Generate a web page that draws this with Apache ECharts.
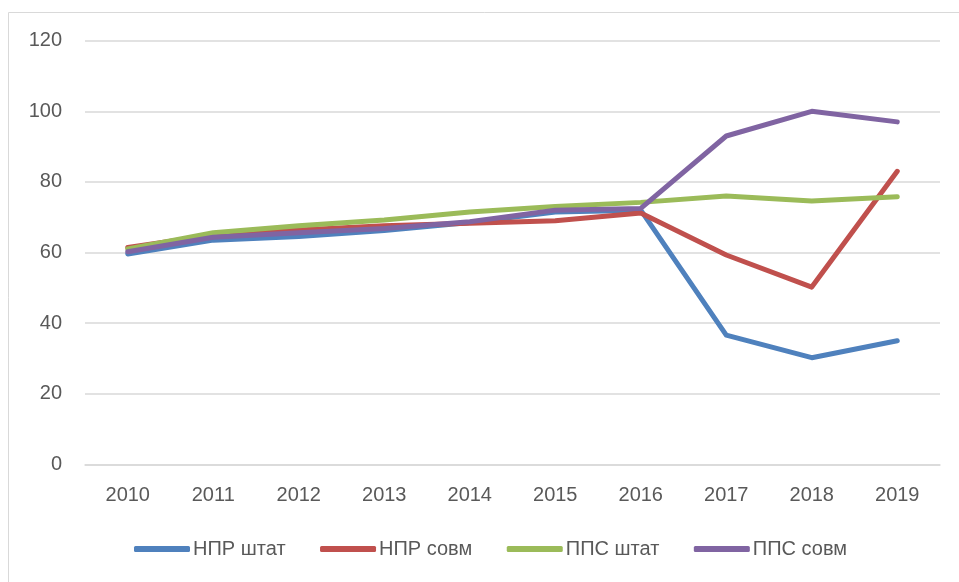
<!DOCTYPE html>
<html>
<head>
<meta charset="utf-8">
<script src="https://cdn.jsdelivr.net/npm/echarts@6/dist/echarts.min.js"></script>
<style>
html,body{margin:0;padding:0;background:#fff;}
#chart{width:959px;height:582px;}
</style>
</head>
<body>
<div id="chart"></div>
<script>
const years = ['2010','2011','2012','2013','2014','2015','2016','2017','2018','2019'];
const nprShtat = [59.6, 63.5, 64.5, 66.2, 68.5, 71.5, 72.0, 36.6, 30.2, 35.0];
const nprSovm  = [61.4, 65.0, 66.4, 67.6, 68.3, 69.0, 71.2, 59.3, 50.2, 83.0];
const ppsShtat = [61.0, 65.6, 67.6, 69.2, 71.5, 73.0, 74.2, 76.0, 74.6, 75.8];
const ppsSovm  = [60.2, 64.3, 65.6, 66.8, 68.7, 72.0, 72.5, 93.0, 100.0, 97.0];
const seriesNames = ['НПР штат', 'НПР совм', 'ППС штат', 'ППС совм'];
const colors = ['#4F81BD', '#C0504D', '#9BBB59', '#8064A2'];
const yTicks = {min: 0, max: 120, interval: 20};

const font = '"Liberation Sans", Arial, sans-serif';
const chart = echarts.init(document.getElementById('chart'), null, {renderer: 'canvas'});
const mk = (name, data, i) => ({
  name: name, type: 'line', data: data, symbol: 'none', z: 2 + i,
  itemStyle: {color: colors[i]},
  lineStyle: {color: colors[i], width: 5, cap: 'round', join: 'round'},
  emphasis: {disabled: true}, animation: false
});
chart.setOption({
  animation: false,
  textStyle: {fontFamily: font},
  graphic: [{type: 'rect', shape: {x: 8.5, y: 12.5, width: 1200, height: 1200},
    style: {fill: 'none', stroke: '#d9d9d9', lineWidth: 1}, silent: true, z: 0}],
  grid: {left: 85, right: 19, top: 40.7, bottom: 117.7},
  legend: {
    left: 134, top: 539, padding: 0, icon: 'roundRect', itemWidth: 56, itemHeight: 6,
    itemGap: 34.5, data: seriesNames,
    textStyle: {fontFamily: font, fontSize: 20, color: '#595959', padding: [0,0,0,-2]}
  },
  xAxis: {
    type: 'category', data: years, boundaryGap: true,
    axisLine: {show: true, lineStyle: {color: '#d9d9d9', width: 1.5}},
    axisTick: {show: false},
    axisLabel: {fontFamily: font, fontSize: 20, color: '#595959', margin: 21}
  },
  yAxis: {
    type: 'value', min: yTicks.min, max: yTicks.max, interval: yTicks.interval,
    axisLine: {show: false}, axisTick: {show: false},
    splitLine: {lineStyle: {color: '#d9d9d9', width: 1.5}},
    axisLabel: {fontFamily: font, fontSize: 20, color: '#595959', margin: 23}
  },
  series: [
    mk(seriesNames[0], nprShtat, 0),
    mk(seriesNames[1], nprSovm, 1),
    mk(seriesNames[2], ppsShtat, 2),
    mk(seriesNames[3], ppsSovm, 3)
  ]
});
</script>
</body>
</html>
